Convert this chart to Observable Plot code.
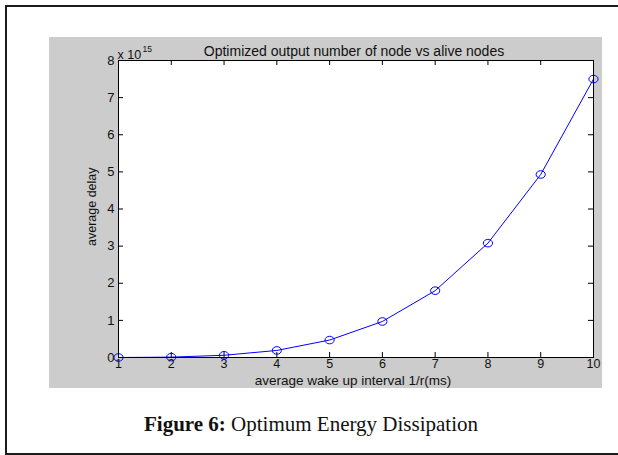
<!DOCTYPE html>
<html><head><meta charset="utf-8">
<script src="https://cdn.jsdelivr.net/npm/d3@7"></script>
<script src="https://cdn.jsdelivr.net/npm/@observablehq/plot@0.6"></script>
<style>
body{margin:0;background:#fff;}
#page{position:relative;width:618px;height:455px;overflow:hidden;background:#fff;}
#box{position:absolute;left:5px;top:5px;width:640px;height:446px;border:2px solid #1c1c1c;box-sizing:content-box;}
#chart{position:absolute;left:49px;top:37px;}
#caption{position:absolute;left:0;width:622px;top:411px;text-align:center;font-family:"Liberation Serif","Times New Roman",serif;font-size:21px;line-height:26px;color:#111;}
</style>
</head><body>
<div id="page"><div id="box"></div><div id="chart"></div>
<div id="caption"><b>Figure 6:</b> Optimum Energy Dissipation</div></div>
<script>
// data (average delay in units of 1e15)
const interval = [1, 2, 3, 4, 5, 6, 7, 8, 9, 10];
const delay = [0.0, 0.01, 0.06, 0.19, 0.47, 0.97, 1.80, 3.08, 4.93, 7.50];
const xTicks = [1, 2, 3, 4, 5, 6, 7, 8, 9, 10];
const yTicks = [0, 1, 2, 3, 4, 5, 6, 7, 8];
const title = "Optimized output number of node vs alive nodes";
const xLabel = "average wake up interval 1/r(ms)";
const yLabel = "average delay";
const expBase = "x 10";
const expPow = "15";

const data = interval.map((x, i) => ({x, y: delay[i]}));

const W = 553, H = 351, mL = 69, mR = 9, mT = 23, mB = 31;
const pw = W - mL - mR, ph = H - mT - mB, tick = 5;
const k = 0.5523;
const ellipse = {draw(ctx) {
  const rx = 4.6, ry = 3.8;
  ctx.moveTo(rx, 0);
  ctx.bezierCurveTo(rx, ry * k, rx * k, ry, 0, ry);
  ctx.bezierCurveTo(-rx * k, ry, -rx, ry * k, -rx, 0);
  ctx.bezierCurveTo(-rx, -ry * k, -rx * k, -ry, 0, -ry);
  ctx.bezierCurveTo(rx * k, -ry, rx, -ry * k, rx, 0);
  ctx.closePath();
}};

const chart = Plot.plot({
  width: W, height: H,
  marginLeft: mL, marginRight: mR, marginTop: mT, marginBottom: mB,
  style: {background: "#cccccc", fontFamily: "'Liberation Sans', Arial, sans-serif", fontSize: "13px", color: "#111", overflow: "hidden"},
  x: {domain: [1, 10]},
  y: {domain: [0, 8]},
  marks: [
    Plot.frame({fill: "white"}),
    Plot.tickX(xTicks, {x: d => d, insetTop: ph - tick, stroke: "#000"}),
    Plot.tickX(xTicks, {x: d => d, insetBottom: ph - tick, stroke: "#000"}),
    Plot.tickY(yTicks, {y: d => d, insetRight: pw - tick, stroke: "#000"}),
    Plot.tickY(yTicks, {y: d => d, insetLeft: pw - tick, stroke: "#000"}),
    Plot.line(data, {x: "x", y: "y", stroke: "#0000ff", strokeWidth: 1}),
    Plot.dot(data, {x: "x", y: "y", symbol: ellipse, stroke: "#0000ff", strokeWidth: 1, fill: "none"}),
    Plot.frame({stroke: "#000"}),
    Plot.axisX(xTicks, {tickSize: 0, tickPadding: 2, label: null, fontSize: 12.5}),
    Plot.axisY(yTicks, {tickSize: 0, tickPadding: 4, label: null, fontSize: 13}),
    Plot.text([title], {frameAnchor: "top", dx: -2, dy: -14, text: d => d, fontSize: 14, fill: "#111"}),
    Plot.text([xLabel], {frameAnchor: "bottom", dx: -3, dy: 27, text: d => d, fontSize: 13.5, fill: "#111"}),
    Plot.text([yLabel], {frameAnchor: "left", dx: -27, dy: 37, rotate: -90, text: d => d, fontSize: 12.5, fill: "#111"}),
    Plot.text([expBase], {frameAnchor: "top-left", dx: -1, dy: -10, textAnchor: "start", text: d => d, fontSize: 12.5, fill: "#111"}),
    Plot.text([expPow], {frameAnchor: "top-left", dx: 24, dy: -15, textAnchor: "start", text: d => d, fontSize: 8.5, fill: "#111"})
  ]
});
document.getElementById("chart").appendChild(chart);
</script>
</body></html>
